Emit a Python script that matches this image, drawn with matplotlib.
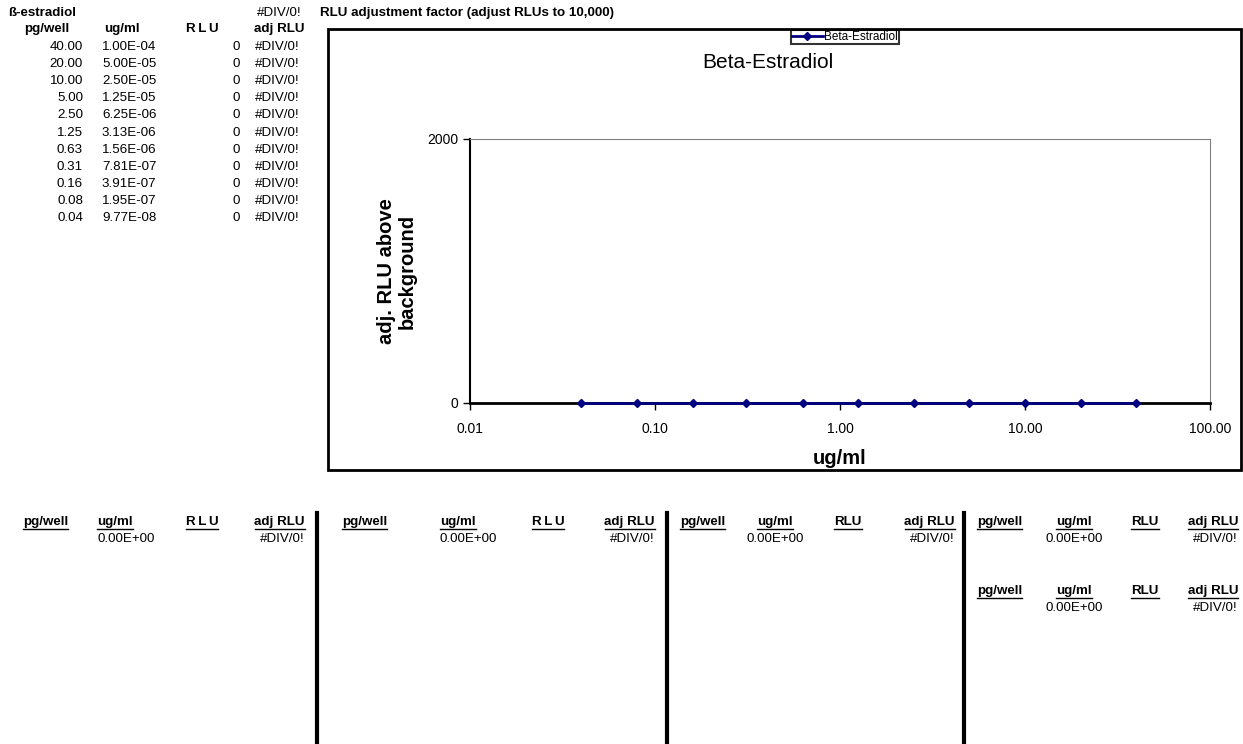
import matplotlib
matplotlib.use('Agg')
import matplotlib.pyplot as plt
from matplotlib.lines import Line2D
from matplotlib.patches import Rectangle
from matplotlib.ticker import FixedLocator, FormatStrFormatter, NullLocator

plt.rcParams['font.family'] = ['Liberation Sans', 'DejaVu Sans']

# data
pg_well = [40.00, 20.00, 10.00, 5.00, 2.50, 1.25, 0.63, 0.31, 0.16, 0.08, 0.04]
ug_ml = ['1.00E-04', '5.00E-05', '2.50E-05', '1.25E-05', '6.25E-06', '3.13E-06',
         '1.56E-06', '7.81E-07', '3.91E-07', '1.95E-07', '9.77E-08']
rlu = [0, 0, 0, 0, 0, 0, 0, 0, 0, 0, 0]
adj_rlu = ['#DIV/0!'] * 11
plot_y = [0, 0, 0, 0, 0, 0, 0, 0, 0, 0, 0]
x_ticks = [0.01, 0.1, 1, 10, 100]
y_ticks = [0, 2000]
headers = ['pg/well', 'ug/ml', 'RLU', 'adj RLU']
spaced_rlu = 'R\u2009L\u2009U'

W, H = 1243, 744
fig = plt.figure(figsize=(W / 100, H / 100), dpi=100)
fs = 9.6


def put(x, y, s, **kw):
    kw.setdefault('fontsize', fs)
    kw.setdefault('va', 'center')
    return fig.text(x / W, 1 - y / H, s, **kw)


# top-left table
put(8, 13, 'ß-estradiol', weight='bold')
put(302, 13, '#DIV/0!', ha='right')
put(320, 13, 'RLU adjustment factor (adjust RLUs to 10,000)', weight='bold')
top_heads = [headers[0], headers[1], spaced_rlu, headers[3]]
for hx, h in zip([47, 122, 202, 279], top_heads):
    put(hx, 29, h, ha='center', weight='bold')
for i in range(len(pg_well)):
    y = 47 + 17.1 * i
    put(83, y, '%.2f' % pg_well[i], ha='right')
    put(102, y, ug_ml[i])
    put(240, y, str(rlu[i]), ha='right')
    put(255, y, adj_rlu[i])

# chart frame
fig.patches.append(Rectangle((328 / W, 1 - 470 / H), (1241 - 328) / W, (470 - 29) / H,
                             transform=fig.transFigure, fill=False, lw=2, ec='black'))

ax = fig.add_axes([470 / W, 1 - 403 / H, (1210 - 470) / W, (403 - 139) / H])
ax.plot(pg_well, plot_y, color='#000080', lw=2, marker='D', ms=4.5,
        label='Beta-Estradiol', clip_on=False, zorder=5)
ax.set_xscale('log')
ax.set_xlim(0.01, 100)
ax.set_ylim(0, 2000)
ax.xaxis.set_major_locator(FixedLocator(x_ticks))
ax.xaxis.set_major_formatter(FormatStrFormatter('%.2f'))
ax.xaxis.set_minor_locator(NullLocator())
ax.set_yticks(y_ticks)
ax.tick_params(axis='both', labelsize=10, length=5, width=1, direction='out')
ax.tick_params(axis='x', pad=9)
ax.spines['top'].set_color('#808080')
ax.spines['right'].set_color('#808080')
ax.spines['left'].set_linewidth(1.5)
ax.spines['bottom'].set_linewidth(2)

leg = ax.legend(loc='center', bbox_to_anchor=(845 / W, 1 - 37 / H),
                bbox_transform=fig.transFigure, fontsize=8.5, fancybox=False,
                frameon=True, edgecolor='black', borderpad=0.1, handlelength=2.6,
                handletextpad=0.15, borderaxespad=0)
leg.get_frame().set_linewidth(1.5)

put(768, 62, 'Beta-Estradiol', ha='center', fontsize=15)
put(397, 271, 'adj. RLU above\nbackground', ha='center', rotation=90,
    weight='bold', fontsize=14.5, multialignment='center', linespacing=1.1)
put(840, 458, 'ug/ml', ha='center', weight='bold', fontsize=14.5)

# bottom tables: pg/well x, ug/ml x and alignment, RLU x, adj RLU right edge, row y
blocks = [
    (23, 97, 'left', 202, 305, 522, spaced_rlu),
    (342, 440, 'left', 548, 655, 522, spaced_rlu),
    (680, 775, 'center', 848, 955, 522, 'RLU'),
    (977, 1074, 'center', 1145, 1238, 522, 'RLU'),
    (977, 1074, 'center', 1145, 1238, 591, 'RLU'),
]
heads = []
for px, ux, ua, rx, ax_r, hy, rl in blocks:
    heads.append((put(px, hy, headers[0], weight='bold'), hy))
    heads.append((put(ux, hy, headers[1], ha=ua, weight='bold'), hy))
    heads.append((put(rx, hy, rl, ha='center', weight='bold'), hy))
    heads.append((put(ax_r, hy, headers[3], ha='right', weight='bold'), hy))
    put(ux, hy + 17, '0.00E+00', ha=ua)
    put(ax_r, hy + 17, '#DIV/0!', ha='right')

for lx in [317, 667, 964]:
    fig.add_artist(Line2D([lx / W, lx / W], [1 - 513 / H, 0], lw=3, color='black',
                          transform=fig.transFigure))

# underline the headers
fig.canvas.draw()
r = fig.canvas.get_renderer()
for t, hy in heads:
    bb = t.get_window_extent(r)
    yy = 1 - (hy + 7) / H
    fig.add_artist(Line2D([bb.x0 / W, bb.x1 / W], [yy, yy], lw=1, color='black',
                          transform=fig.transFigure))

fig.savefig('out.png', dpi=100)
